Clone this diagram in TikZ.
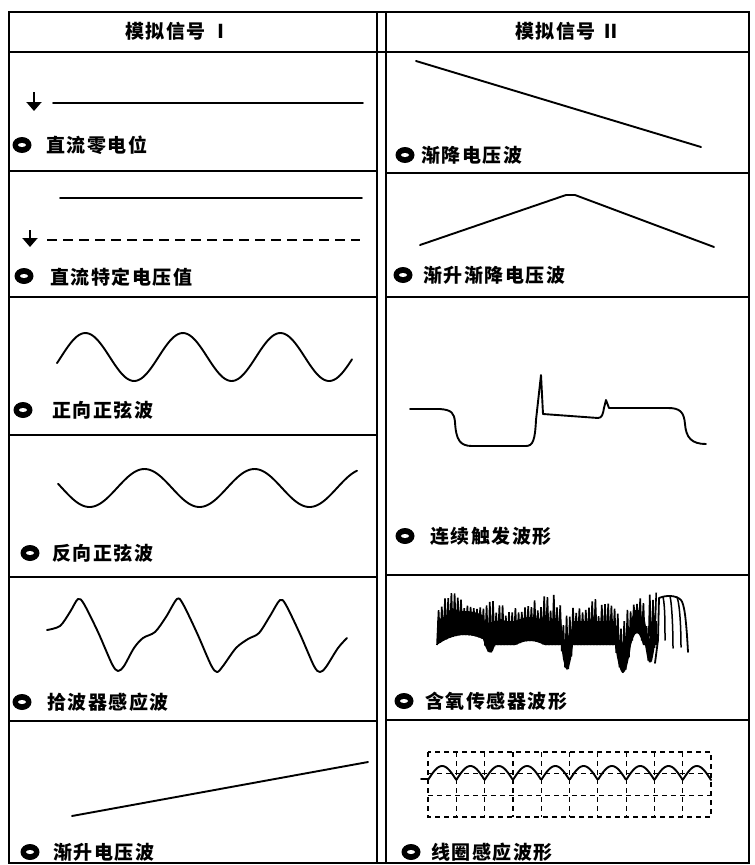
\documentclass[tikz,border=0pt]{standalone}
\usepackage{fontspec}
\newfontfamily\cjk[LetterSpace=8]{Noto Sans CJK SC}
\usetikzlibrary{arrows.meta}
\newcommand\sigbullet[2]{\fill (#1,#2) ellipse [x radius=9.5pt, y radius=8pt];
  \fill[white] (#1,#2) ellipse [x radius=4pt, y radius=2pt];}
\begin{document}
\begin{tikzpicture}[x=1pt,y=-1pt,
  frame/.style={line width=1.8pt},
  wave/.style={line width=1.9pt, line join=round, line cap=round},
  lab/.style={anchor=west, inner sep=0pt, font=\cjk\bfseries\fontsize{19}{19}\selectfont},
  hdr/.style={inner sep=0pt, font=\cjk\bfseries\fontsize{19}{19}\selectfont},
  grd/.style={line width=2pt, -{Triangle[width=15pt,length=9pt]}},
  gridl/.style={line width=1.2pt, dash pattern=on 5pt off 4pt},
  declare function={
    bmp(\x,\c,\w)=max(0,1-((\x-\c)/\w)^2);
    envl(\x)=645-10*bmp(\x,465,28)+10*bmp(\x,489,6)-4*bmp(\x,530,14)+25*bmp(\x,567,6)+28*bmp(\x,623,8)-12*bmp(\x,637,6)+18*bmp(\x,650,5);
    envu(\x)=600+8*sin(7*\x)+12*bmp(\x,505,15)-5*bmp(\x,540,18)+15*bmp(\x,565,8)+10*bmp(\x,610,15)-6*bmp(\x,638,7);
  }]
\useasboundingbox (0,0) rectangle (755,865);
% table frame
\draw[frame] (9,12) rectangle (749,863);
\draw[frame] (377,12) -- (377,863);
\draw[frame] (386,12) -- (386,863);
\draw[frame] (9,52) -- (749,52);
\foreach \yy in {171,297,435,577,721} \draw[frame] (9,\yy) -- (377,\yy);
\foreach \yy in {173,297,575,720} \draw[frame] (386,\yy) -- (749,\yy);
% headers
\node[hdr] (h1) at (178,31) {模拟信号 Ⅰ};
\node[hdr] (h2) at (568,31) {模拟信号 Ⅱ};
% L1
\draw[grd] (34,92) -- (34,111);
\draw[wave] (53,103) -- (363,103);
\sigbullet{22}{145}
\node[lab] (l1) at (46,145) {直流零电位};
% L2
\draw[wave] (60,198) -- (362,198);
\draw[grd] (30,230) -- (30,247);
\draw[line width=1.7pt, dash pattern=on 10pt off 6pt] (47,240) -- (360,240);
\sigbullet{24}{276}
\node[lab] (l2) at (50,277) {直流特定电压值};
% L3
\draw[wave] plot[domain=57:352, samples=150] (\x,{357-24*sin((\x-61)/97.5*360)});
\sigbullet{23}{410}
\node[lab] (l3) at (52,410) {正向正弦波};
% L4
\draw[wave] plot[domain=58:357, samples=150] (\x,{488+19*sin((\x-62)/110*360)});
\sigbullet{30}{553}
\node[lab] (l4) at (52,553) {反向正弦波};
% L5
\draw[wave] plot[smooth, tension=0.5] coordinates {(47,630) (60,626) (70,612) (78,599) (84,604) (98,632) (112,664) (118,671) (124,666) (134,648) (143,638) (155,632) (166,617) (177,599) (183,604) (197,633) (211,665) (217,672) (223,666) (236,648) (248,639) (259,633) (270,616) (280,600) (286,605) (300,634) (314,666) (320,672) (326,667) (338,648) (347,638)};
\sigbullet{22}{702}
\node[lab] (l5) at (47,702) {拾波器感应波};
% L6
\draw[wave] (72,816) -- (368,762);
\sigbullet{30}{852}
\node[lab] (l6) at (53,852) {渐升电压波};
% R1
\draw[wave] (416,61) -- (701,147);
\sigbullet{405}{155}
\node[lab] (r1) at (421,155) {渐降电压波};
% R2
\draw[wave] (420,245) -- (566,195) -- (575,195) -- (714,247);
\sigbullet{403}{275}
\node[lab] (r2) at (423,275) {渐升渐降电压波};
% R3
\draw[wave] (410,409) -- (440,409) .. controls (452,410) and (454,413) .. (455,422)
  .. controls (456,440) and (460,446) .. (472,446) -- (526,446)
  .. controls (533,446) and (535,440) .. (536,420) -- (541,375) -- (543,414) -- (598,418)
  .. controls (602,418) and (603,414) .. (604,408) -- (606,400) -- (609,408) -- (668,408)
  .. controls (680,408) and (684,412) .. (685,424)
  .. controls (686,438) and (692,444) .. (706,444);
\sigbullet{405}{536}
\node[lab] (r3) at (430,536) {连续触发波形};
% R4
\pgfmathsetseed{42}
\fill plot[variable=\t, domain=437:657, samples=111] (\t,{envl(\t)}) -- plot[variable=\t, domain=657:437, samples=111] (\t,{envl(\t)-24});
\draw[line width=1.6pt, line join=miter] plot[variable=\t, domain=0:137, samples=138]
  ({437+1.6*\t},{envl(437+1.6*\t)+(envu(437+1.6*\t)+(envl(437+1.6*\t)-envu(437+1.6*\t)-24)*rnd*rnd-envl(437+1.6*\t))*mod(round(\t),2)});
\draw[line width=1.8pt, line join=round, line cap=round] (655,663) -- (658,640) -- (659,598) .. controls (666,595) and (676,595) .. (681,600) .. controls (684,604) and (686,615) .. (688,652);
\draw[line width=1.5pt, line cap=round] (663,597) .. controls (665,605) and (665,625) .. (665,640);
\draw[line width=1.5pt, line cap=round] (670,596) .. controls (672,605) and (673,630) .. (673,648);
\draw[line width=1.5pt, line cap=round] (677,597) .. controls (680,605) and (681,630) .. (681,647);
\sigbullet{404}{701}
\node[lab] (r4) at (425,701) {含氧传感器波形};
% R5
\draw[gridl] (428,752) rectangle (711,817);
\foreach \yy in {773.7,795.3} \draw[gridl] (428,\yy) -- (711,\yy);
\foreach \k in {1,...,9} \draw[gridl] ({428+28.3*\k},752) -- ({428+28.3*\k},817);
\draw[wave] (421,779) -- (428,779);
\draw[wave] plot[domain=428:711, samples=300] (\x,{780-14*abs(sin((\x-428)/28.3*180))});
\sigbullet{411}{852}
\node[lab] (r5) at (431,852) {线圈感应波形};
\end{tikzpicture}
\end{document}
